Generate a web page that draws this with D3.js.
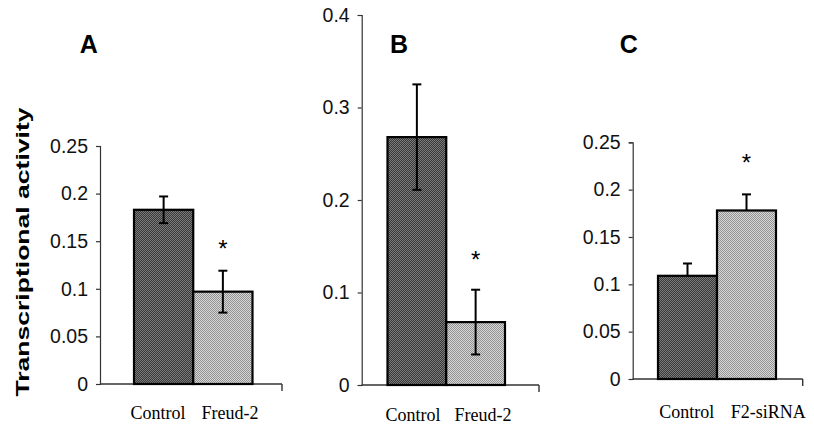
<!DOCTYPE html>
<html>
<head>
<meta charset="utf-8">
<script src="https://cdn.jsdelivr.net/npm/d3@7"></script>
<style>
  body { margin: 0; background: #fff; }
  svg { display: block; }
</style>
</head>
<body>
<svg id="chart" width="814" height="430"></svg>
<script>
// ---- Data ----
const panelLetters = ["A", "B", "C"];

const categoriesA = ["Control", "Freud-2"];
const valuesA = [0.183, 0.097];
const errorsA = [0.014, 0.022];
const ticksA = [0, 0.05, 0.1, 0.15, 0.2, 0.25];
const tickLabelsA = ["0", "0.05", "0.1", "0.15", "0.2", "0.25"];

const categoriesB = ["Control", "Freud-2"];
const valuesB = [0.268, 0.068];
const errorsB = [0.057, 0.035];
const ticksB = [0, 0.1, 0.2, 0.3, 0.4];
const tickLabelsB = ["0", "0.1", "0.2", "0.3", "0.4"];

const categoriesC = ["Control", "F2-siRNA"];
const valuesC = [0.109, 0.178];
const errorsC = [0.013, 0.017];
const ticksC = [0, 0.05, 0.1, 0.15, 0.2, 0.25];
const tickLabelsC = ["0", "0.05", "0.1", "0.15", "0.2", "0.25"];

const yAxisTitle = "Transcriptional activity";
const significanceMark = "*";

// ---- Layout (positions, sizes) ----
const layouts = [
  { axisX: 100, axisEnd: 282, y0: 384, yTop: 146, yMax: 0.25, barRange: [134, 252.5], labelRange: [122, 266], labelY: 419, letterX: 88.7, star: 27, upperOnly: false },
  { axisX: 361.7, axisEnd: 539, y0: 385, yTop: 15, yMax: 0.4, barRange: [387.5, 505], labelRange: [378, 518], labelY: 421, letterX: 399, star: 35, upperOnly: false },
  { axisX: 632.7, axisEnd: 802.7, y0: 379, yTop: 142.3, yMax: 0.25, barRange: [658, 776], labelRange: [646, 809], labelY: 418, letterX: 628.7, star: 37, upperOnly: true }
];

const panelData = [
  { cats: categoriesA, vals: valuesA, errs: errorsA, ticks: ticksA, tickLabels: tickLabelsA },
  { cats: categoriesB, vals: valuesB, errs: errorsB, ticks: ticksB, tickLabels: tickLabelsB },
  { cats: categoriesC, vals: valuesC, errs: errorsC, ticks: ticksC, tickLabels: tickLabelsC }
];

const svg = d3.select("#chart");

// halftone-like patterns
const defs = svg.append("defs");
function makePattern(id, base, dot) {
  const p = defs.append("pattern").attr("id", id)
    .attr("patternUnits", "userSpaceOnUse").attr("width", 2).attr("height", 2);
  p.append("rect").attr("width", 2).attr("height", 2).attr("fill", base);
  p.append("rect").attr("x", 0).attr("y", 0).attr("width", 1).attr("height", 1).attr("fill", dot);
  p.append("rect").attr("x", 1).attr("y", 1).attr("width", 1).attr("height", 1).attr("fill", dot);
}
makePattern("darkFill", "#3a3a3a", "#7a7a7a");
makePattern("lightFill", "#d6d6d6", "#939393");
const fills = ["url(#darkFill)", "url(#lightFill)"];

const sans = "Arial, 'Liberation Sans', Helvetica, sans-serif";
const serif = "'Times New Roman', 'Liberation Serif', Times, serif";

panelData.forEach((pd, i) => {
  const L = layouts[i];
  const g = svg.append("g");

  const y = d3.scaleLinear().domain([0, L.yMax]).range([L.y0, L.yTop]);
  const x = d3.scaleBand().domain(pd.cats).range(L.barRange).paddingInner(0).paddingOuter(0);
  const xl = d3.scaleBand().domain(pd.cats).range(L.labelRange);

  // y axis
  const yAxis = d3.axisLeft(y).tickValues(pd.ticks)
    .tickFormat((d, k) => pd.tickLabels[k]).tickSize(4).tickPadding(8);
  const ya = g.append("g").attr("transform", `translate(${L.axisX},0)`).call(yAxis);
  ya.select(".domain").attr("stroke", "#333").attr("stroke-width", 1.2);
  ya.selectAll(".tick line").attr("stroke", "#333").attr("stroke-width", 1.2);
  ya.selectAll(".tick text").attr("font-family", sans).attr("font-size", 19.5).attr("fill", "#111");

  // x axis line with end tick
  g.append("line").attr("x1", L.axisX).attr("x2", L.axisEnd)
    .attr("y1", y(0)).attr("y2", y(0)).attr("stroke", "#333").attr("stroke-width", 1.4);
  g.append("line").attr("x1", L.axisEnd).attr("x2", L.axisEnd)
    .attr("y1", y(0)).attr("y2", y(0) + 7).attr("stroke", "#333").attr("stroke-width", 1.4);

  // bars
  g.selectAll("rect.bar").data(pd.cats).join("rect").attr("class", "bar")
    .attr("x", d => x(d)).attr("width", x.bandwidth())
    .attr("y", (d, k) => y(pd.vals[k])).attr("height", (d, k) => y(0) - y(pd.vals[k]))
    .attr("fill", (d, k) => fills[k]).attr("stroke", "#000").attr("stroke-width", 2.2);

  // error bars
  pd.cats.forEach((c, k) => {
    const cx = x(c) + x.bandwidth() / 2;
    const top = y(pd.vals[k] + pd.errs[k]);
    const bot = L.upperOnly ? y(pd.vals[k]) : y(pd.vals[k] - pd.errs[k]);
    g.append("line").attr("x1", cx).attr("x2", cx).attr("y1", top).attr("y2", bot)
      .attr("stroke", "#000").attr("stroke-width", 2);
    g.append("line").attr("x1", cx - 4.5).attr("x2", cx + 4.5).attr("y1", top).attr("y2", top)
      .attr("stroke", "#000").attr("stroke-width", 2);
    if (!L.upperOnly) {
      g.append("line").attr("x1", cx - 4.5).attr("x2", cx + 4.5).attr("y1", bot).attr("y2", bot)
        .attr("stroke", "#000").attr("stroke-width", 2);
    }
  });

  // significance star over treated bar
  const sc = pd.cats[1];
  g.append("text").attr("x", x(sc) + x.bandwidth() / 2)
    .attr("y", y(pd.vals[1] + pd.errs[1]) - L.star + 13.5)
    .attr("text-anchor", "middle").attr("font-family", sans).attr("font-size", 24)
    .attr("fill", "#000").text(significanceMark);

  // category labels
  g.selectAll("text.cat").data(pd.cats).join("text").attr("class", "cat")
    .attr("x", d => xl(d) + xl.bandwidth() / 2).attr("y", L.labelY)
    .attr("text-anchor", "middle").attr("font-family", serif).attr("font-size", 18)
    .attr("fill", "#000").text(d => d);

  // panel letter
  g.append("text").attr("x", L.letterX).attr("y", 53.3).attr("text-anchor", "middle")
    .attr("font-family", sans).attr("font-weight", "bold").attr("font-size", 25)
    .attr("fill", "#000").text(panelLetters[i]);
});

// shared y title
svg.append("text").attr("transform", "translate(28.5,252) rotate(-90)")
  .attr("text-anchor", "middle").attr("font-family", sans).attr("font-weight", "bold")
  .attr("font-size", 19).attr("textLength", 289).attr("lengthAdjust", "spacingAndGlyphs")
  .attr("fill", "#000").text(yAxisTitle);
</script>
</body>
</html>
